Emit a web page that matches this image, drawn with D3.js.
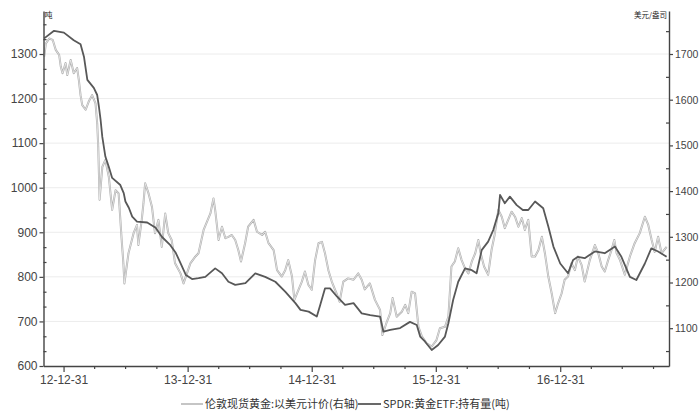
<!DOCTYPE html>
<html><head><meta charset="utf-8">
<script src="https://cdn.jsdelivr.net/npm/d3@7"></script>
<style>
body{margin:0;background:#fff;}
svg{display:block;}
.tk text{font-family:"Liberation Sans",Arial,sans-serif;font-size:12px;fill:#444;}
.tk.rt text{font-size:10.5px;}
</style></head>
<body><svg id="c" width="699" height="416"></svg>
<script>
const spdrDates = ["2012-11-04","2012-12-03","2013-01-01","2013-01-30","2013-02-19","2013-03-01","2013-03-11","2013-03-30","2013-04-09","2013-04-14","2013-04-19","2013-04-24","2013-05-03","2013-05-13","2013-05-23","2013-06-16","2013-06-26","2013-07-01","2013-07-11","2013-07-21","2013-08-04","2013-09-03","2013-09-28","2013-10-16","2013-11-10","2013-11-26","2013-12-10","2013-12-26","2014-01-13","2014-02-01","2014-02-21","2014-03-22","2014-04-11","2014-04-30","2014-05-20","2014-06-19","2014-07-18","2014-08-16","2014-09-15","2014-10-14","2014-11-13","2014-11-28","2014-12-22","2015-01-15","2015-01-25","2015-02-08","2015-02-23","2015-03-15","2015-04-08","2015-05-03","2015-05-27","2015-06-21","2015-07-20","2015-07-30","2015-08-19","2015-09-17","2015-10-16","2015-11-05","2015-11-15","2015-11-29","2015-12-19","2016-01-07","2016-01-27","2016-02-06","2016-02-20","2016-03-06","2016-03-26","2016-04-15","2016-04-29","2016-05-14","2016-06-02","2016-06-17","2016-07-02","2016-07-07","2016-07-21","2016-08-05","2016-08-25","2016-09-12","2016-09-28","2016-10-18","2016-11-11","2016-11-26","2016-12-11","2016-12-31","2017-01-23","2017-02-07","2017-02-21","2017-03-13","2017-04-12","2017-05-11","2017-06-10","2017-06-29","2017-07-24","2017-08-12","2017-09-06","2017-09-25","2017-10-15","2017-11-09"];
const spdrTonnes = [1335,1352,1348,1331,1322,1294,1242,1224,1208,1182,1152,1114,1070,1047,1022,1006,988,969,955,935,924,922,910,890,871,854,831,804,795,797,800,819,808,789,782,786,808,800,789,767,741,726,722,711,737,774,774,756,737,741,718,714,711,677,681,685,699,692,666,655,636,647,666,696,748,789,819,815,808,860,879,905,943,984,965,980,961,950,950,969,954,913,868,830,808,838,845,842,857,853,868,845,800,793,830,864,857,845];

const goldDates = ["2012-11-04","2012-11-09","2012-11-19","2012-11-29","2012-12-08","2012-12-18","2012-12-23","2012-12-28","2013-01-06","2013-01-11","2013-01-21","2013-01-30","2013-02-09","2013-02-14","2013-02-19","2013-02-24","2013-03-06","2013-03-15","2013-03-25","2013-04-04","2013-04-09","2013-04-12","2013-04-16","2013-04-24","2013-05-03","2013-05-13","2013-05-23","2013-06-02","2013-06-11","2013-06-20","2013-06-25","2013-06-28","2013-07-10","2013-07-25","2013-08-04","2013-08-08","2013-08-18","2013-08-23","2013-08-28","2013-09-07","2013-09-17","2013-09-26","2013-10-06","2013-10-16","2013-10-26","2013-11-04","2013-11-14","2013-11-24","2013-12-10","2013-12-19","2013-12-29","2014-01-08","2014-01-23","2014-02-01","2014-02-16","2014-02-26","2014-03-08","2014-03-17","2014-03-22","2014-04-01","2014-04-11","2014-04-21","2014-04-30","2014-05-10","2014-05-20","2014-05-29","2014-06-06","2014-06-18","2014-06-27","2014-07-13","2014-07-23","2014-08-07","2014-08-16","2014-08-26","2014-09-10","2014-09-20","2014-10-04","2014-10-14","2014-10-23","2014-11-03","2014-11-10","2014-11-22","2014-12-02","2014-12-11","2014-12-21","2014-12-31","2015-01-10","2015-01-20","2015-01-30","2015-02-08","2015-02-18","2015-02-28","2015-03-14","2015-03-23","2015-04-03","2015-04-17","2015-05-03","2015-05-17","2015-05-27","2015-06-05","2015-06-20","2015-07-05","2015-07-20","2015-07-27","2015-08-09","2015-08-19","2015-08-26","2015-09-07","2015-09-22","2015-10-02","2015-10-11","2015-10-21","2015-10-31","2015-11-10","2015-11-20","2015-12-04","2015-12-19","2016-01-02","2016-01-12","2016-01-27","2016-02-06","2016-02-15","2016-02-25","2016-03-06","2016-03-16","2016-03-26","2016-04-05","2016-04-15","2016-04-25","2016-05-04","2016-05-11","2016-05-21","2016-06-02","2016-06-12","2016-06-21","2016-07-02","2016-07-12","2016-07-21","2016-07-31","2016-08-10","2016-08-20","2016-08-30","2016-09-09","2016-09-18","2016-09-28","2016-10-08","2016-10-18","2016-10-28","2016-11-07","2016-11-16","2016-11-26","2016-12-06","2016-12-16","2016-12-25","2017-01-04","2017-01-13","2017-01-23","2017-02-02","2017-02-12","2017-02-21","2017-03-04","2017-03-13","2017-03-28","2017-04-12","2017-04-22","2017-05-02","2017-05-11","2017-05-21","2017-05-31","2017-06-08","2017-06-15","2017-06-25","2017-07-09","2017-07-24","2017-08-07","2017-08-22","2017-09-06","2017-09-16","2017-09-26","2017-10-05","2017-10-15","2017-10-25","2017-11-09"];
const goldPrices = [1694,1723,1734,1731,1709,1698,1672,1658,1680,1654,1687,1658,1669,1643,1610,1588,1578,1596,1610,1592,1548,1497,1381,1453,1468,1432,1359,1402,1395,1293,1242,1198,1264,1308,1326,1282,1337,1373,1417,1395,1366,1308,1337,1278,1351,1308,1293,1242,1220,1198,1220,1242,1257,1264,1315,1333,1351,1384,1359,1293,1322,1297,1300,1304,1293,1271,1246,1286,1322,1337,1311,1304,1311,1286,1271,1227,1213,1227,1249,1213,1162,1184,1202,1224,1195,1184,1249,1286,1289,1264,1227,1202,1176,1158,1202,1209,1206,1220,1206,1185,1198,1162,1140,1085,1114,1133,1166,1125,1136,1151,1133,1180,1176,1103,1082,1067,1060,1074,1100,1103,1125,1235,1246,1275,1249,1231,1220,1246,1264,1293,1264,1235,1217,1271,1304,1359,1344,1319,1337,1355,1344,1322,1341,1315,1337,1257,1257,1271,1300,1264,1213,1176,1133,1155,1176,1206,1213,1242,1227,1257,1238,1202,1249,1282,1264,1235,1224,1249,1271,1293,1264,1249,1217,1257,1286,1308,1344,1326,1293,1267,1300,1264,1278];

const xMajorTicks = ["2012-12-31","2013-12-31","2014-12-31","2015-12-31","2016-12-31"];
const xMinorTicks = ["2013-03-31","2013-06-30","2013-09-30","2014-03-31","2014-06-30","2014-09-30","2015-03-31","2015-06-30","2015-09-30","2016-03-31","2016-06-30","2016-09-30","2017-03-31","2017-06-30","2017-09-30"];
const leftTicks = [600,700,800,900,1000,1100,1200,1300];
const rightTicks = [1100,1200,1300,1400,1500,1600,1700];
const leftUnit = "吨";
const rightUnit = "美元/盎司";
const seriesNames = ["伦敦现货黄金:以美元计价(右轴)","SPDR:黄金ETF:持有量(吨)"];

const parse = d3.utcParse("%Y-%m-%d");
const svg = d3.select("#c");
const L = 43.5, R = 669, B = 366, T = 11;

const x = d3.scaleUtc().domain([parse("2012-11-02"), parse("2017-11-16")]).range([L, R]);
const yL = d3.scaleLinear().domain([600, 1300]).range([B, 54]);
const yR = d3.scaleLinear().domain([1100, 1700]).range([328.2, 54]);

// gridlines
svg.append("g").selectAll("line").data(leftTicks.filter(v => v > 600)).join("line")
  .attr("x1", L).attr("x2", R).attr("y1", d => yL(d)).attr("y2", d => yL(d))
  .attr("stroke", "#ececec").attr("stroke-width", 1);

// series
const gold = goldDates.map((d, i) => [parse(d), goldPrices[i]]);
const spdr = spdrDates.map((d, i) => [parse(d), spdrTonnes[i]]);
const gLine = d3.line().x(d => x(d[0])).y(d => yR(d[1]));
const sLine = d3.line().x(d => x(d[0])).y(d => yL(d[1]));
svg.append("path").datum(gold).attr("d", gLine).attr("fill", "none").attr("stroke", "#adadad").attr("stroke-width", 2).attr("stroke-linejoin", "round");
svg.append("path").datum(gold).attr("d", gLine).attr("fill", "none").attr("stroke", "#f4f4f4").attr("stroke-width", 0.7).attr("stroke-linejoin", "round");
svg.append("path").datum(spdr).attr("d", sLine).attr("fill", "none").attr("stroke", "#585858").attr("stroke-width", 1.8).attr("stroke-linejoin", "round");

// axes
const axisStyle = g => { g.select(".domain").attr("stroke", "#444").attr("stroke-width", 1.4); g.selectAll(".tick line").attr("stroke", "#444").attr("stroke-width", 1.2); };
const yLAxisScale = yL.copy().domain([600, 600 + (B - T) / (B - 54) * 700]).range([B, T]);
const yRAxisScale = yR.copy().domain([yR.invert(B), yR.invert(T)]).range([B, T]);
const numFmt = d3.format("d");
svg.append("g").attr("class", "tk").attr("transform", `translate(${L},0)`)
  .call(d3.axisLeft(yLAxisScale).tickValues(leftTicks).tickFormat(numFmt).tickSize(4).tickSizeOuter(0).tickPadding(2)).call(axisStyle);
const lMinor = [];
leftTicks.forEach(v => { lMinor.push(v + 100/3, v + 200/3); });
svg.append("g").attr("transform", `translate(${L},0)`)
  .call(d3.axisRight(yLAxisScale).tickValues(lMinor.filter(v => yLAxisScale(v) > T)).tickSize(3).tickSizeOuter(0).tickFormat(""))
  .call(g => g.select(".domain").remove()).call(axisStyle);

svg.append("g").attr("class", "tk rt").attr("transform", `translate(${R},0)`)
  .call(d3.axisRight(yRAxisScale).tickValues(rightTicks).tickFormat(numFmt).tickSize(4).tickSizeOuter(0).tickPadding(2)).call(axisStyle);
const rMinor = [1050,1150,1250,1350,1450,1550,1650,1750];
svg.append("g").attr("transform", `translate(${R},0)`)
  .call(d3.axisLeft(yRAxisScale).tickValues(rMinor).tickSize(3).tickSizeOuter(0).tickFormat(""))
  .call(g => g.select(".domain").remove()).call(axisStyle);

const fmt = d3.utcFormat("%y-%m-%d");
svg.append("g").attr("class", "tk").attr("transform", `translate(0,${B})`)
  .call(d3.axisBottom(x).tickValues(xMajorTicks.map(parse)).tickFormat(fmt).tickSize(6).tickSizeOuter(0).tickPadding(3)).call(axisStyle);
svg.append("g").attr("transform", `translate(0,${B})`)
  .call(d3.axisBottom(x).tickValues(xMinorTicks.map(parse)).tickFormat("").tickSize(3).tickSizeOuter(0))
  .call(g => g.select(".domain").remove()).call(axisStyle);

// units
svg.append("text").attr("x", L + 1).attr("y", 18).text(leftUnit)
  .attr("font-family", "'Noto Sans CJK SC',sans-serif").attr("font-size", 8).attr("fill", "#222");
svg.append("text").attr("x", R - 2).attr("y", 18).attr("text-anchor", "end").text(rightUnit)
  .attr("font-family", "'Noto Sans CJK SC',sans-serif").attr("font-size", 7.5).attr("fill", "#222");

// legend
const lg = svg.append("g").attr("font-family", "'Noto Sans CJK SC',sans-serif").attr("font-size", 11).attr("fill", "#333");
lg.append("line").attr("x1", 181).attr("x2", 203).attr("y1", 404).attr("y2", 404).attr("stroke", "#adadad").attr("stroke-width", 2);
lg.append("line").attr("x1", 181).attr("x2", 203).attr("y1", 404).attr("y2", 404).attr("stroke", "#f4f4f4").attr("stroke-width", 0.7);
lg.append("text").attr("x", 205).attr("y", 408).text(seriesNames[0]);
lg.append("line").attr("x1", 358).attr("x2", 381).attr("y1", 404).attr("y2", 404).attr("stroke", "#585858").attr("stroke-width", 1.8);
lg.append("text").attr("x", 383).attr("y", 408).text(seriesNames[1]);
</script></body></html>
